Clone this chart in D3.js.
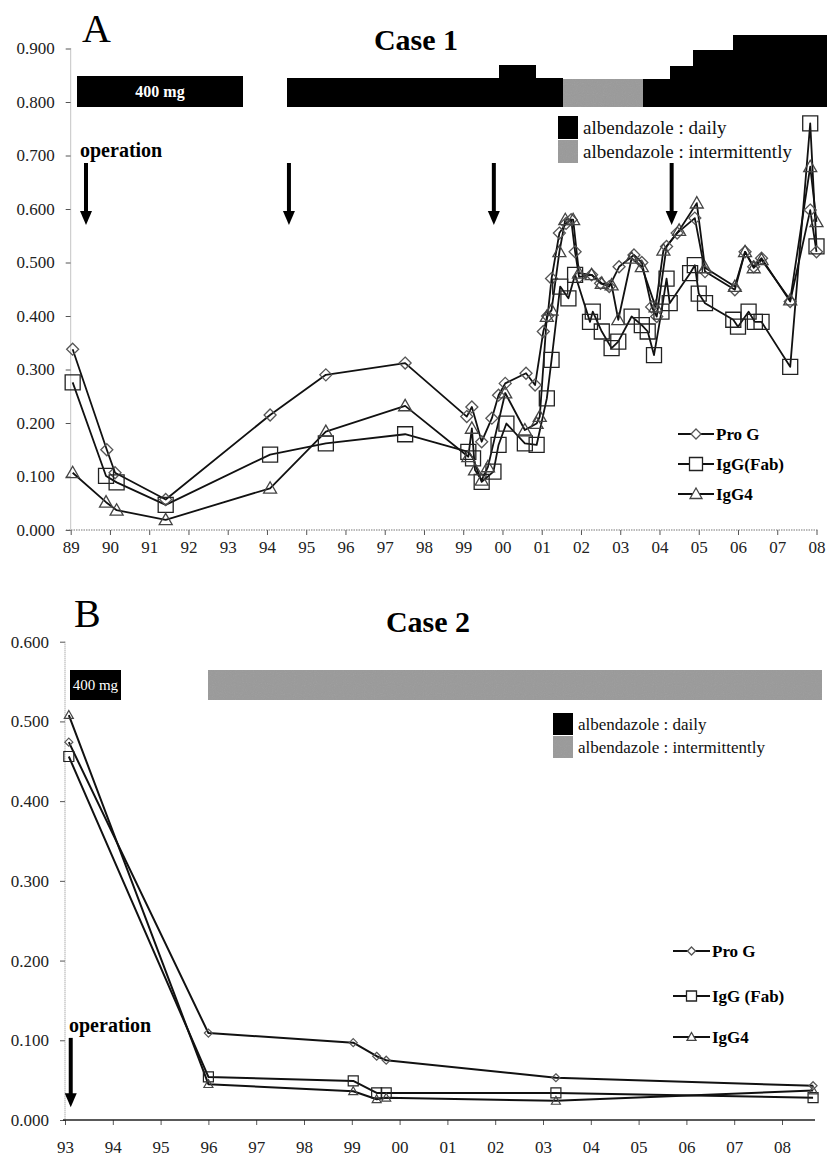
<!DOCTYPE html>
<html><head><meta charset="utf-8">
<script src="https://cdn.jsdelivr.net/npm/d3@7"></script>
<style>body{margin:0;background:#fff}svg{display:block}text{font-family:'Liberation Serif','Times New Roman',serif}</style>
</head><body>
<svg id="c" width="827" height="1160"></svg>
<script>
// ---------------- DATA: Case 1 ----------------
const yearsA = d3.range(1989, 2009);
const tickLabelsA = ["89","90","91","92","93","94","95","96","97","98","99","00","01","02","03","04","05","06","07","08"];
const yTicksA = [0,0.1,0.2,0.3,0.4,0.5,0.6,0.7,0.8,0.9];
const proG_A = [[1989.05,0.338],[1989.92,0.150],[1990.13,0.107],[1991.42,0.057],[1994.08,0.215],[1995.5,0.290],[1997.52,0.312],[1999.09,0.212],[1999.22,0.230],[1999.47,0.165],[1999.73,0.209],[1999.9,0.252],[2000.07,0.274],[2000.6,0.293],[2000.83,0.271],[2001.04,0.371],[2001.15,0.400],[2001.25,0.470],[2001.45,0.555],[2001.62,0.573],[2001.75,0.580],[2001.85,0.520],[2001.95,0.473],[2002.27,0.477],[2002.5,0.461],[2002.72,0.455],[2002.97,0.492],[2003.35,0.514],[2003.55,0.500],[2003.8,0.417],[2003.93,0.399],[2004.18,0.530],[2004.45,0.555],[2004.9,0.583],[2005.16,0.483],[2005.92,0.449],[2006.18,0.520],[2006.4,0.492],[2006.6,0.508],[2007.33,0.427],[2007.84,0.598],[2008.0,0.520]];
const igg_A = [[1989.05,0.276],[1989.9,0.101],[1990.17,0.089],[1991.42,0.047],[1994.08,0.141],[1995.5,0.162],[1997.52,0.179],[1999.13,0.146],[1999.25,0.134],[1999.47,0.090],[1999.77,0.109],[1999.9,0.159],[2000.1,0.199],[2000.57,0.162],[2000.87,0.159],[2001.13,0.246],[2001.25,0.318],[2001.47,0.455],[2001.68,0.433],[2001.85,0.477],[2002.23,0.389],[2002.3,0.408],[2002.53,0.371],[2002.78,0.340],[2002.95,0.352],[2003.29,0.399],[2003.55,0.383],[2003.7,0.371],[2003.86,0.327],[2004.05,0.408],[2004.18,0.470],[2004.26,0.424],[2004.78,0.480],[2004.9,0.495],[2005.0,0.442],[2005.16,0.424],[2005.88,0.393],[2006.0,0.380],[2006.27,0.408],[2006.43,0.389],[2006.6,0.389],[2007.33,0.305],[2007.84,0.760],[2008.0,0.530]];
const igg4_A = [[1989.05,0.107],[1989.9,0.052],[1990.17,0.037],[1991.42,0.019],[1994.08,0.078],[1995.5,0.184],[1997.52,0.232],[1999.13,0.137],[1999.22,0.190],[1999.3,0.112],[1999.47,0.093],[1999.63,0.118],[2000.07,0.256],[2000.57,0.187],[2000.87,0.199],[2000.95,0.212],[2001.13,0.399],[2001.25,0.411],[2001.45,0.520],[2001.6,0.580],[2001.8,0.580],[2001.95,0.480],[2002.27,0.477],[2002.53,0.461],[2002.78,0.458],[2002.95,0.393],[2003.29,0.508],[2003.55,0.492],[2003.9,0.417],[2004.1,0.523],[2004.5,0.560],[2004.95,0.611],[2005.16,0.490],[2005.92,0.455],[2006.18,0.520],[2006.4,0.490],[2006.6,0.505],[2007.33,0.430],[2007.84,0.679],[2008.0,0.576]];
const doseA = [
  {from:1989.15,to:1993.40,top:0.848,type:"daily",label:"400 mg"},
  {from:1994.50,to:1999.92,top:0.845,type:"daily"},
  {from:1999.92,to:2000.86,top:0.870,type:"daily"},
  {from:2000.86,to:2001.53,top:0.845,type:"daily"},
  {from:2001.53,to:2003.59,top:0.843,type:"intermittent"},
  {from:2003.59,to:2004.27,top:0.843,type:"daily"},
  {from:2004.27,to:2004.85,top:0.868,type:"daily"},
  {from:2004.85,to:2005.87,top:0.897,type:"daily"},
  {from:2005.87,to:2008.27,top:0.925,type:"daily"}
];
const doseBaseA = 0.79;
const arrowsA = [1989.39, 1994.56, 1999.78, 2004.31];

// ---------------- DATA: Case 2 ----------------
const yearsB = d3.range(1993, 2009);
const tickLabelsB = ["93","94","95","96","97","98","99","00","01","02","03","04","05","06","07","08"];
const yTicksB = [0,0.1,0.2,0.3,0.4,0.5,0.6];
const proG_B = [[1993.08,0.474],[1996.0,0.109],[1999.03,0.097],[1999.52,0.080],[1999.72,0.075],[2003.27,0.053],[2008.65,0.043]];
const igg_B = [[1993.08,0.456],[1996.0,0.054],[1999.03,0.049],[1999.52,0.034],[1999.72,0.034],[2003.27,0.034],[2008.65,0.028]];
const igg4_B = [[1993.08,0.508],[1996.0,0.045],[1999.03,0.036],[1999.52,0.026],[1999.72,0.028],[2003.27,0.024],[2008.65,0.037]];
const doseB = [
  {from:1993.1,to:1994.17,top:0.565,type:"daily",label:"400 mg"},
  {from:1996.0,to:2008.84,top:0.565,type:"intermittent"}
];
const doseBaseB = 0.527;
const arrowsB = [1993.12];

const seriesNames = ["Pro G","IgG(Fab)","IgG4"];
const seriesNamesB = ["Pro G","IgG (Fab)","IgG4"];
const legendDose = ["albendazole : daily","albendazole : intermittently"];

// ---------------- DRAW ----------------
const svg = d3.select("#c");
const SERIF = "'Liberation Serif','Times New Roman',serif";
const GRAY = "#9a9a9a";

// speckled texture for the "intermittently" grey, like the scanned original
const defs = svg.append("defs");
const filt = defs.append("filter").attr("id","speck").attr("x",0).attr("y",0).attr("width",1).attr("height",1);
filt.append("feTurbulence").attr("type","fractalNoise").attr("baseFrequency","0.9").attr("numOctaves",1).attr("seed",3).attr("result","n");
filt.append("feColorMatrix").attr("in","n").attr("type","matrix")
  .attr("values","0 0 0 0 0.35  0 0 0 0 0.35  0 0 0 0 0.35  0.9 0.9 0.9 0 -1.05").attr("result","d");
filt.append("feComposite").attr("in","d").attr("in2","SourceGraphic").attr("operator","in").attr("result","dd");
filt.append("feMerge").call(m => { m.append("feMergeNode").attr("in","SourceGraphic"); m.append("feMergeNode").attr("in","dd"); });

function markerPath(shape, s) {
  const h = s / 2;
  if (shape === "square") return `M${-h},${-h}H${h}V${h}H${-h}Z`;
  if (shape === "diamond") return `M0,${-h}L${h},0L0,${h}L${-h},0Z`;
  return `M0,${-h}L${h},${h*0.75}L${-h},${h*0.75}Z`;
}

function panel(cfg) {
  const g = svg.append("g");
  const x = d3.scaleLinear().domain(cfg.xDomain).range(cfg.xRange);
  const y = d3.scaleLinear().domain(cfg.yDomain).range(cfg.yRange);

  // dose bars
  g.selectAll("rect.dose").data(cfg.dose).join("rect")
    .attr("x", d => x(d.from)).attr("width", d => x(d.to) - x(d.from))
    .attr("y", d => y(d.top)).attr("height", d => y(cfg.doseBase) - y(d.top))
    .attr("fill", d => d.type === "daily" ? "#000" : GRAY)
    .attr("filter", d => d.type === "daily" ? null : "url(#speck)")
    .attr("shape-rendering","crispEdges");
  g.selectAll("text.dl").data(cfg.dose.filter(d => d.label)).join("text")
    .attr("x", d => (x(d.from) + x(d.to)) / 2)
    .attr("y", d => (y(d.top) + y(cfg.doseBase)) / 2 + 5)
    .attr("text-anchor","middle").attr("fill","#fff")
    .style("font-family",SERIF).attr("font-size",cfg.doseLabelSize)
    .attr("font-weight",cfg.doseLabelWeight).text(d => d.label);

  // y axis
  const ya = d3.axisLeft(y).tickValues(cfg.yTicks).tickFormat(d3.format(".3f")).tickSize(5).tickPadding(11);
  const yg = g.append("g").attr("transform",`translate(${x(cfg.xDomain[0])},0)`).call(ya)
    .attr("font-family",null).attr("font-size",null);
  yg.select(".domain").remove();
  yg.selectAll(".tick line").attr("stroke","#555");
  yg.selectAll(".tick text").style("font-family",SERIF).style("font-size","17px").attr("fill","#222");
  g.append("line").attr("x1",x(cfg.xDomain[0])).attr("x2",x(cfg.xDomain[0]))
    .attr("y1",y(cfg.yDomain[1])).attr("y2",y(0))
    .attr("stroke","#888").attr("stroke-width",1).attr("stroke-dasharray","1,1");

  // x axis
  const xa = d3.axisBottom(x).tickValues(cfg.years).tickFormat((d,i) => cfg.tickLabels[i]).tickSize(5).tickPadding(cfg.xPad);
  const xg = g.append("g").attr("transform",`translate(0,${y(0)})`).call(xa)
    .attr("font-family",null).attr("font-size",null);
  xg.select(".domain").remove();
  xg.selectAll(".tick line").attr("stroke","#555");
  xg.selectAll(".tick text").style("font-family",SERIF).style("font-size","17px").attr("fill","#222");
  g.append("line").attr("x1",cfg.xAxisExt[0]).attr("x2",cfg.xAxisExt[1])
    .attr("y1",y(0)).attr("y2",y(0))
    .attr("stroke",cfg.xSolid ? "#222" : "#777")
    .attr("stroke-width",cfg.xSolid ? 1.6 : 1.2)
    .attr("stroke-dasharray",cfg.xSolid ? null : "1.5,1");

  // lines & markers
  const line = d3.line().x(d => x(d[0])).y(d => y(d[1]));
  const shapes = ["diamond","square","triangle"];
  const mcol = ["#555","#222","#444"];
  cfg.series.forEach((s,i) => {
    g.append("path").datum(s).attr("d",line).attr("fill","none")
      .attr("stroke","#111").attr("stroke-width",cfg.lineW).attr("stroke-linejoin","round");
  });
  cfg.series.forEach((s,i) => {
    g.selectAll(null).data(s).join("path")
      .attr("transform", d => `translate(${x(d[0])},${y(d[1])})`)
      .attr("d", markerPath(shapes[i], cfg.mSize[i]))
      .attr("fill","none").attr("stroke",mcol[i]).attr("stroke-width",cfg.mStroke);
  });

  // arrows
  cfg.arrows.forEach(a => {
    const ax = x(a), y1 = y(cfg.arrowFrom), y2 = y(cfg.arrowTo);
    g.append("line").attr("x1",ax).attr("x2",ax).attr("y1",y1).attr("y2",y2-12)
      .attr("stroke","#000").attr("stroke-width",4);
    g.append("path").attr("d",`M${ax-6},${y2-14}L${ax+6},${y2-14}L${ax},${y2}Z`).attr("fill","#000");
  });
  g.append("text").attr("x",cfg.opPos[0]).attr("y",cfg.opPos[1])
    .style("font-family",SERIF).attr("font-weight","bold").attr("font-size",20).text("operation");

  // panel letter and title
  g.append("text").attr("x",cfg.letterPos[0]).attr("y",cfg.letterPos[1])
    .style("font-family",SERIF).attr("font-size",40).text(cfg.letter);
  g.append("text").attr("x",cfg.titlePos[0]).attr("y",cfg.titlePos[1]).attr("text-anchor","middle")
    .style("font-family",SERIF).attr("font-weight","bold").attr("font-size",30).text(cfg.title);

  // dose legend
  const dl = cfg.doseLegend;
  legendDose.forEach((t,i) => {
    g.append("rect").attr("x",dl.x).attr("y",dl.y + i*dl.dy).attr("width",dl.w).attr("height",dl.h)
      .attr("fill", i === 0 ? "#000" : GRAY).attr("filter", i === 0 ? null : "url(#speck)");
    g.append("text").attr("x",dl.x + dl.w + 5).attr("y",dl.y + i*dl.dy + dl.h/2 + dl.fs*0.33)
      .style("font-family",SERIF).attr("font-size",dl.fs).attr("fill","#111").text(t);
  });

  // series legend
  const sl = cfg.serLegend;
  cfg.names.forEach((n,i) => {
    const yy = sl.ys[i];
    g.append("line").attr("x1",sl.x).attr("x2",sl.x+sl.len).attr("y1",yy).attr("y2",yy)
      .attr("stroke","#111").attr("stroke-width",2);
    g.append("path").attr("transform",`translate(${sl.x+sl.len/2},${yy})`)
      .attr("d",markerPath(shapes[i], sl.m[i])).attr("fill","#fff").attr("stroke",mcol[i]).attr("stroke-width",1.3);
    g.append("text").attr("x",sl.x+sl.len+2).attr("y",yy+6)
      .style("font-family",SERIF).attr("font-weight","bold").attr("font-size",17).text(n);
  });
}

panel({
  xDomain:[1989,2008], xRange:[70.7,816.5], yDomain:[0,0.9], yRange:[530,48.5],
  years:yearsA, tickLabels:tickLabelsA, yTicks:yTicksA, xPad:6, xAxisExt:[66,818], xSolid:false,
  dose:doseA, doseBase:doseBaseA, doseLabelSize:16, doseLabelWeight:"bold",
  series:[proG_A, igg_A, igg4_A], names:seriesNames,
  lineW:1.8, mSize:[12,15,13], mStroke:1.3,
  arrows:arrowsA, arrowFrom:0.686, arrowTo:0.57, opPos:[80,157],
  letter:"A", letterPos:[82,42], title:"Case 1", titlePos:[416,50],
  doseLegend:{x:558,y:116,w:20,h:23,dy:24,fs:19},
  serLegend:{x:678,len:36,ys:[434,464,494],m:[10,13,12]}
});

panel({
  xDomain:[1993,2008], xRange:[65,782], yDomain:[0,0.6], yRange:[1120,641.7],
  years:yearsB, tickLabels:tickLabelsB, yTicks:yTicksB, xPad:16, xAxisExt:[63,815], xSolid:true,
  dose:doseB, doseBase:doseBaseB, doseLabelSize:15, doseLabelWeight:"normal",
  series:[proG_B, igg_B, igg4_B], names:seriesNamesB,
  lineW:2, mSize:[8,10,9], mStroke:1.2,
  arrows:arrowsB, arrowFrom:0.103, arrowTo:0.016, opPos:[69,1032],
  letter:"B", letterPos:[74,627], title:"Case 2", titlePos:[428,632],
  doseLegend:{x:553,y:713,w:20,h:22,dy:23,fs:17},
  serLegend:{x:673,len:37,ys:[951,996,1037],m:[8,10,9]}
});
</script>
</body></html>
